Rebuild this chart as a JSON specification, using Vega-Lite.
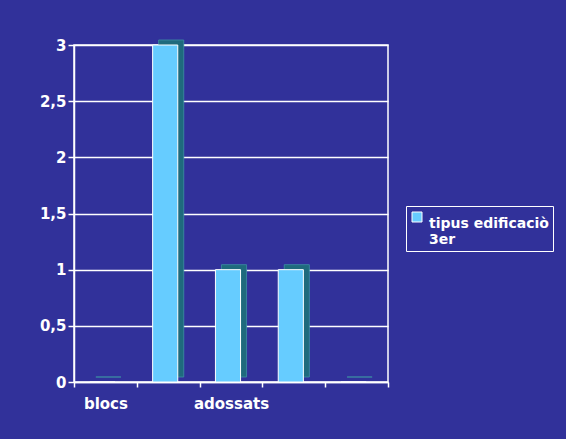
{
  "$schema": "https://vega.github.io/schema/vega-lite/v6.json",
  "autosize": {"type": "none"},
  "width": 314,
  "height": 337,
  "padding": {"left": 74, "top": 45, "right": 178, "bottom": 57},
  "background": "#31319a",
  "config": {
    "view": {"stroke": "white", "strokeWidth": 1.5},
    "font": "DejaVu Sans",
    "axis": {"labelColor": "white", "labelFont": "DejaVu Sans", "labelFontWeight": "bold", "labelFontSize": 15, "domainColor": "white", "tickColor": "white", "gridColor": "white", "gridOpacity": 1, "domainWidth": 1.5, "gridWidth": 1.5, "tickWidth": 1.5}
  },
  "data": {"values": [
    {"pos": 1, "valor": 0, "serie": "tipus edificaciò 3er"},
    {"pos": 2, "valor": 3, "serie": "tipus edificaciò 3er"},
    {"pos": 3, "valor": 1, "serie": "tipus edificaciò 3er"},
    {"pos": 4, "valor": 1, "serie": "tipus edificaciò 3er"},
    {"pos": 5, "valor": 0, "serie": "tipus edificaciò 3er"}
  ]},
  "encoding": {
    "x": {"field": "pos", "type": "ordinal", "scale": {"paddingInner": 0, "paddingOuter": 0},
      "axis": {"title": null, "labelAngle": 0, "tickBand": "extent", "tickSize": 5, "labelPadding": 9, "grid": false,
        "labelExpr": "datum.value == 1 ? 'blocs' : datum.value == 3 ? 'adossats' : ''"}},
    "y": {"field": "valor", "type": "quantitative", "scale": {"domain": [0, 3], "nice": false},
      "axis": {"title": null, "values": [0, 0.5, 1, 1.5, 2, 2.5, 3], "format": "~g", "tickSize": 6, "labelPadding": 2,
        "labelExpr": "replace(datum.label, '.', ',')"}}
  },
  "layer": [
    {
      "mark": {"type": "bar", "width": {"band": 0.4}, "xOffset": 3, "yOffset": -5, "color": "#1f6a7d", "stroke": "#3c8fa3", "strokeWidth": 0.8}
    },
    {
      "mark": {"type": "bar", "width": {"band": 0.4}, "xOffset": -3, "stroke": "white", "strokeWidth": 1},
      "encoding": {
        "color": {"field": "serie", "type": "nominal", "scale": {"range": ["#66ccff"]},
          "legend": {"title": null, "orient": "none", "legendX": 332, "legendY": 161,
            "strokeColor": "white", "padding": 4, "symbolType": "square", "symbolSize": 100,
            "symbolStrokeColor": "white", "symbolStrokeWidth": 1,
            "labelColor": "white", "labelFont": "DejaVu Sans", "labelFontWeight": "bold", "labelFontSize": 14,
            "labelLimit": 200, "labelExpr": "['tipus edificaciò', '3er']", "labelBaseline": "top", "labelOffset": 5}}
      }
    }
  ]
}
